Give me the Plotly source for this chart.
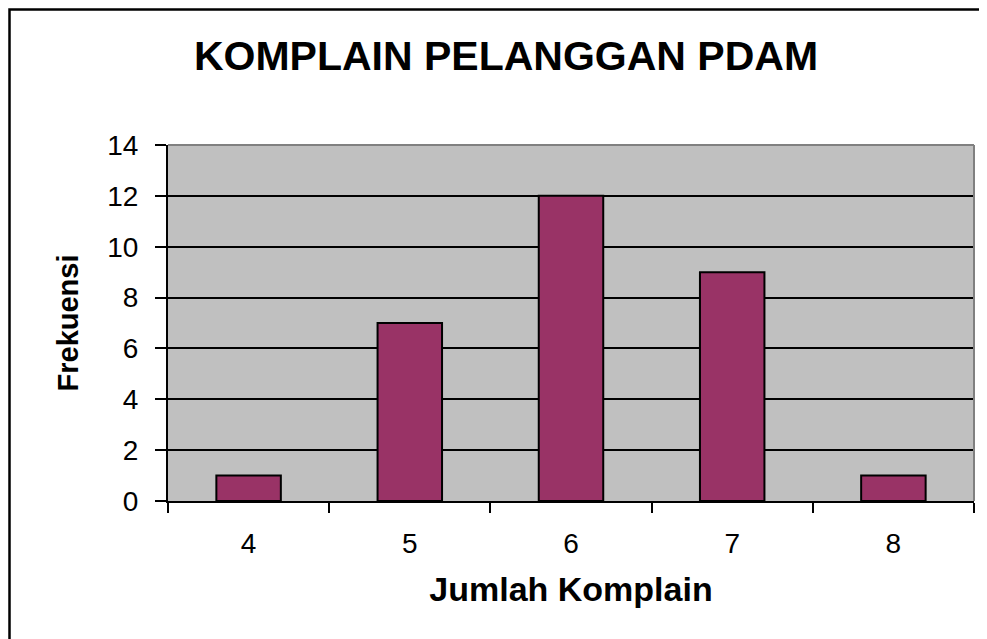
import plotly.graph_objects as go

categories = ["4", "5", "6", "7", "8"]
frequencies = [1, 7, 12, 9, 1]
y_ticks = [0, 2, 4, 6, 8, 10, 12, 14]

# page body has an 8px margin, so figure pixel = screen pixel - 8
W, H = 979, 631
ml, mr, mt, mb = 160, 13, 137, 138
pw = W - ml - mr
ph = H - mt - mb

def px_x(x):
    return (x - ml) / pw

def px_y(y):
    return (H - mb - y) / ph

fig = go.Figure()
fig.add_trace(go.Bar(
    x=categories, y=frequencies,
    marker=dict(color="#993366", line=dict(color="black", width=2)),
    width=0.4,
))

font = "Liberation Sans, Arial, sans-serif"
fig.update_layout(
    width=W, height=H,
    margin=dict(l=ml, r=mr, t=mt, b=mb),
    paper_bgcolor="white",
    plot_bgcolor="#C0C0C0",
    showlegend=False,
    font=dict(family=font, color="black"),
    title=dict(text="<b>KOMPLAIN PELANGGAN PDAM</b>", x=px_x(498), xref="paper",
               xanchor="center", y=1 - 48 / H, yanchor="middle",
               font=dict(size=41, family=font, color="black")),
)
fig.update_xaxes(
    type="category", range=[-0.5, 4.5],
    showline=True, linecolor="black", linewidth=2,
    ticks="outside", tickson="boundaries", ticklen=10, tickwidth=2, tickcolor="black",
    tickfont=dict(size=28), ticklabelstandoff=16,
    showgrid=False,
    title=dict(text="<b>Jumlah Komplain</b>", font=dict(size=34), standoff=20),
)
fig.update_yaxes(
    range=[0, 14], tickvals=y_ticks,
    showline=True, linecolor="black", linewidth=2,
    ticks="outside", ticklen=11, tickwidth=2, tickcolor="black",
    tickfont=dict(size=28), ticklabelstandoff=11,
    showgrid=True, gridcolor="black", gridwidth=2,
    zeroline=False,
    title=dict(text="<b>Frekuensi</b>", font=dict(size=29), standoff=20),
)
# gray top and right border of plot area
fig.add_shape(type="line", xref="paper", yref="paper", x0=0, x1=1, y0=1, y1=1,
              line=dict(color="#808080", width=2))
fig.add_shape(type="line", xref="paper", yref="paper", x0=1, x1=1, y0=0, y1=1,
              line=dict(color="#808080", width=2))
# outer chart frame
fig.add_shape(type="rect", xref="paper", yref="paper",
              x0=px_x(1.5), x1=px_x(W + 20),
              y0=px_y(H + 20), y1=px_y(1.5),
              line=dict(color="black", width=2.5), fillcolor="rgba(0,0,0,0)", layer="below")

fig.write_html("out.html")
